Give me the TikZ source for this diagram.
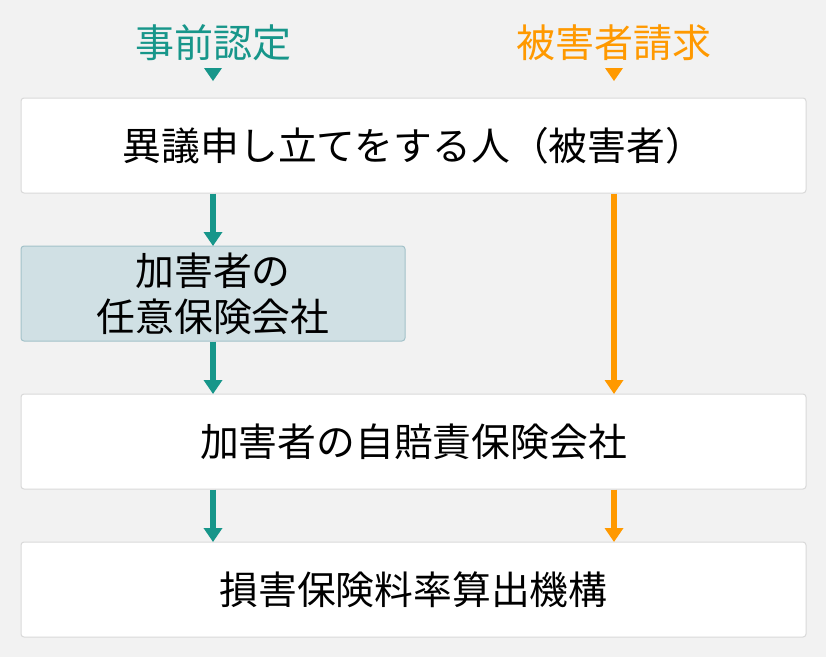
\documentclass[tikz,border=0pt]{standalone}
\usepackage{fontspec}
\setmainfont{Noto Sans CJK JP}
\usetikzlibrary{arrows.meta}
\definecolor{bg}{HTML}{F2F2F2}
\definecolor{teal2}{HTML}{17968A}
\definecolor{orng}{HTML}{FF9900}
\definecolor{boxline}{HTML}{D9D9D9}
\definecolor{bluefill}{HTML}{D0E0E4}
\definecolor{blueline}{HTML}{A3C2C9}
\tikzset{
  wbox/.style={draw=boxline, line width=1pt, fill=white, rounded corners=3pt, minimum height=95pt, inner sep=0pt, font=\fontsize{38.8}{46}\selectfont, text=black},
  bbox/.style={wbox, draw=blueline, fill=bluefill, align=center},
  toplab/.style={font=\fontsize{39}{46}\selectfont, inner sep=0pt},
  tarrow/.style={draw=teal2, line width=6pt, -{Triangle[width=18pt,length=14pt]}, shorten >=-0.5pt},
  oarrow/.style={draw=orng, line width=6pt, -{Triangle[width=18pt,length=14pt]}, shorten >=-0.5pt}
}
\begin{document}
\begin{tikzpicture}[x=1pt,y=-1pt]
\fill[bg] (0,0) rectangle (826,657);
\useasboundingbox (0,0) rectangle (826,657);
\node[toplab, text=teal2] (l1) at (213,43) {事前認定};
\node[toplab, text=orng] (l2) at (614,43) {被害者請求};
\fill[teal2] (204,68) -- (222,68) -- (213,81) -- cycle;
\fill[orng] (605,68) -- (623,68) -- (614,81) -- cycle;
\node[wbox, minimum width=785pt] (b1) at (413.5,145.5) {異議申し立てをする人（被害者）};
\node[bbox, minimum width=384pt] (b2) at (213,293.5) {加害者の\\任意保険会社};
\node[wbox, minimum width=785pt] (b3) at (413.5,441.5) {加害者の自賠責保険会社};
\node[wbox, minimum width=785pt] (b4) at (413.5,589.5) {損害保険料率算出機構};
\draw[tarrow] (b1.south -| b2.north) -- (b2.north);
\draw[tarrow] (b2.south) -- (b3.north -| b2.south);
\draw[tarrow] (b3.south -| b2.south) -- (b4.north -| b2.south);
\draw[oarrow] (b1.south -| l2.south) -- (b3.north -| l2.south);
\draw[oarrow] (b3.south -| l2.south) -- (b4.north -| l2.south);
\end{tikzpicture}
\end{document}
